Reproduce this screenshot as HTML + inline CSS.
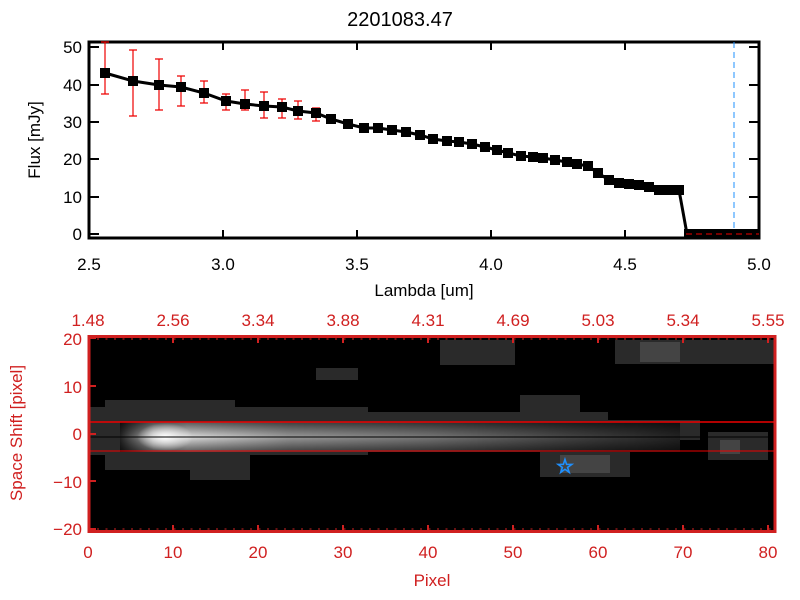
<!DOCTYPE html>
<html><head><style>body{margin:0;background:#fff}svg{display:block}text{font-family:"Liberation Sans",sans-serif}</style></head><body>
<svg width="800" height="600" viewBox="0 0 800 600" xmlns="http://www.w3.org/2000/svg">
<defs>
<linearGradient id="core" x1="0" x2="1" y1="0" y2="0">
<stop offset="0" stop-color="#222"/><stop offset="0.06" stop-color="#bbb"/><stop offset="0.12" stop-color="#ddd"/><stop offset="0.3" stop-color="#999"/><stop offset="0.55" stop-color="#777"/><stop offset="0.8" stop-color="#444"/><stop offset="1" stop-color="#222"/>
</linearGradient>
<linearGradient id="vfade" x1="0" x2="0" y1="0" y2="1">
<stop offset="0" stop-color="#000" stop-opacity="0.6"/><stop offset="0.5" stop-color="#000" stop-opacity="0"/><stop offset="1" stop-color="#000" stop-opacity="0.6"/>
</linearGradient>
<radialGradient id="blob" cx="0.5" cy="0.5" r="0.5"><stop offset="0" stop-color="#fff"/><stop offset="1" stop-color="#fff" stop-opacity="0"/></radialGradient>
</defs>
<text x="400" y="26" font-size="20" text-anchor="middle">2201083.47</text>
<!-- top plot -->
<g stroke="#000" stroke-width="3" fill="none"><rect x="89" y="42" width="670" height="196"/></g>
<g stroke="#000" stroke-width="2">
<path d="M89 234h10M89 197h10M89 159h10M89 122h10M89 85h10M89 47h10M759 234h-10M759 197h-10M759 159h-10M759 122h-10M759 85h-10M759 47h-10"/>
<path d="M223 238v-8M357 238v-8M491 238v-8M625 238v-8M223 42v8M357 42v8M491 42v8M625 42v8"/>
</g>
<g font-size="17" text-anchor="end"><text x="82" y="53">50</text><text x="82" y="91">40</text><text x="82" y="128">30</text><text x="82" y="165">20</text><text x="82" y="203">10</text><text x="82" y="240">0</text></g>
<g font-size="17" text-anchor="middle"><text x="89" y="270">2.5</text><text x="223" y="270">3.0</text><text x="357" y="270">3.5</text><text x="491" y="270">4.0</text><text x="625" y="270">4.5</text><text x="759" y="270">5.0</text><text x="424" y="296">Lambda [um]</text></g>
<text transform="translate(40 140) rotate(-90)" font-size="17" text-anchor="middle">Flux [mJy]</text>
<line x1="734" y1="42" x2="734" y2="238" stroke="#1e90ff" stroke-dasharray="6,4"/>
<g stroke="#e00" stroke-width="1.2">
<path d="M105 42v52M101 42h8M101 94h8M133 50v66M129 50h8M129 116h8M159 59v51M155 59h8M155 110h8M181 76v30M177 76h8M177 106h8M204 81v22M200 81h8M200 103h8M226 94v16M222 94h8M222 110h8M245 90v20M241 90h8M241 110h8M264 92v26M260 92h8M260 118h8M282 99v19M278 99h8M278 118h8M298 101v18M294 101h8M294 119h8M316 108v13M312 108h8M312 121h8"/>
</g>
<polyline fill="none" stroke="#000" stroke-width="3" points="105,73 133,81 159,85 181,87 204,93 226,101 245,104 264,106 282,107 298,111 316,113 331,119 348,124 364,128 378,128 392,130 406,132 420,135 433,139 447,141 459,142 472,144 485,147 497,150 508,153 521,156 533,157 543,158 555,160 567,162 577,164 588,166 598,173 609,180 619,183 629,184 639,185 649,187 659,190 669,190 679,190 687,234 759,234"/>
<g fill="#000">
<rect x="100" y="68" width="10" height="10"/><rect x="128" y="76" width="10" height="10"/><rect x="154" y="80" width="10" height="10"/><rect x="176" y="82" width="10" height="10"/><rect x="199" y="88" width="10" height="10"/><rect x="221" y="96" width="10" height="10"/><rect x="240" y="99" width="10" height="10"/><rect x="259" y="101" width="10" height="10"/><rect x="277" y="102" width="10" height="10"/><rect x="293" y="106" width="10" height="10"/><rect x="311" y="108" width="10" height="10"/><rect x="326" y="114" width="10" height="10"/><rect x="343" y="119" width="10" height="10"/><rect x="359" y="123" width="10" height="10"/><rect x="373" y="123" width="10" height="10"/><rect x="387" y="125" width="10" height="10"/><rect x="401" y="127" width="10" height="10"/><rect x="415" y="130" width="10" height="10"/><rect x="428" y="134" width="10" height="10"/><rect x="442" y="136" width="10" height="10"/><rect x="454" y="137" width="10" height="10"/><rect x="467" y="139" width="10" height="10"/><rect x="480" y="142" width="10" height="10"/><rect x="492" y="145" width="10" height="10"/><rect x="503" y="148" width="10" height="10"/><rect x="516" y="151" width="10" height="10"/><rect x="528" y="152" width="10" height="10"/><rect x="538" y="153" width="10" height="10"/><rect x="550" y="155" width="10" height="10"/><rect x="562" y="157" width="10" height="10"/><rect x="572" y="159" width="10" height="10"/><rect x="583" y="161" width="10" height="10"/><rect x="593" y="168" width="10" height="10"/><rect x="604" y="175" width="10" height="10"/><rect x="614" y="178" width="10" height="10"/><rect x="624" y="179" width="10" height="10"/><rect x="634" y="180" width="10" height="10"/><rect x="644" y="182" width="10" height="10"/><rect x="654" y="185" width="10" height="10"/><rect x="664" y="185" width="10" height="10"/><rect x="674" y="185" width="10" height="10"/><rect x="684" y="229" width="75" height="9"/>
</g>
<line x1="686" y1="234" x2="759" y2="234" stroke="#e00" stroke-dasharray="6,4"/>
<!-- bottom image -->
<rect x="88" y="336" width="688" height="196" fill="#000"/>
<g fill="#2a2a2a">
<rect x="88" y="407" width="280" height="48"/><rect x="105" y="400" width="130" height="70"/><rect x="190" y="420" width="60" height="60"/><rect x="368" y="412" width="240" height="36"/><rect x="440" y="340" width="75" height="25"/><rect x="615" y="340" width="160" height="24"/><rect x="520" y="395" width="60" height="18"/><rect x="540" y="452" width="90" height="25"/><rect x="708" y="432" width="60" height="28"/><rect x="316" y="368" width="42" height="12"/><rect x="600" y="420" width="100" height="20"/>
</g>
<g fill="#444"><rect x="640" y="342" width="40" height="20"/><rect x="560" y="455" width="50" height="18"/><rect x="720" y="440" width="20" height="14"/></g>
<rect x="120" y="422" width="560" height="30" fill="url(#core)"/>
<rect x="120" y="422" width="560" height="30" fill="url(#vfade)"/>
<ellipse cx="165" cy="437" rx="28" ry="14" fill="url(#blob)"/>
<line x1="88" y1="422" x2="776" y2="422" stroke="#e00" stroke-width="1.5"/>
<line x1="88" y1="451" x2="776" y2="451" stroke="#e00" stroke-width="1"/>
<line x1="88" y1="437" x2="776" y2="437" stroke="#000" stroke-width="1"/>
<text x="565" y="473" font-size="20" fill="none" stroke="#1e90ff" text-anchor="middle">☆</text>
<g stroke="#d02020" fill="none"><rect x="89" y="336.5" width="686" height="195" stroke-width="3"/></g>
<g stroke="#d02020" stroke-width="2">
<path d="M173 532v-7M258 532v-7M343 532v-7M428 532v-7M513 532v-7M598 532v-7M683 532v-7M768 532v-7M173 336v7M258 336v7M343 336v7M428 336v7M513 336v7M598 336v7M683 336v7M768 336v7M88 338h8M88 386h8M88 434h8M88 481h8M88 529h8"/>
</g>
<g stroke="#d02020" stroke-width="1" stroke-dasharray="2,6.5"><path d="M90 530v-3M90 338v3"/><line x1="97" y1="529" x2="776" y2="529"/><line x1="97" y1="339" x2="776" y2="339"/></g>
<g font-size="17" fill="#d02020" text-anchor="end"><text x="82" y="345">20</text><text x="82" y="393">10</text><text x="82" y="440">0</text><text x="82" y="488">−10</text><text x="82" y="535">−20</text></g>
<g font-size="17" fill="#d02020" text-anchor="middle">
<text x="88" y="558">0</text><text x="173" y="558">10</text><text x="258" y="558">20</text><text x="343" y="558">30</text><text x="428" y="558">40</text><text x="513" y="558">50</text><text x="598" y="558">60</text><text x="683" y="558">70</text><text x="768" y="558">80</text>
<text x="88" y="326">1.48</text><text x="173" y="326">2.56</text><text x="258" y="326">3.34</text><text x="343" y="326">3.88</text><text x="428" y="326">4.31</text><text x="513" y="326">4.69</text><text x="598" y="326">5.03</text><text x="683" y="326">5.34</text><text x="768" y="326">5.55</text>
<text x="432" y="586">Pixel</text></g>
<text transform="translate(22 433) rotate(-90)" font-size="17" fill="#d02020" text-anchor="middle">Space Shift [pixel]</text>
</svg>
</body></html>
